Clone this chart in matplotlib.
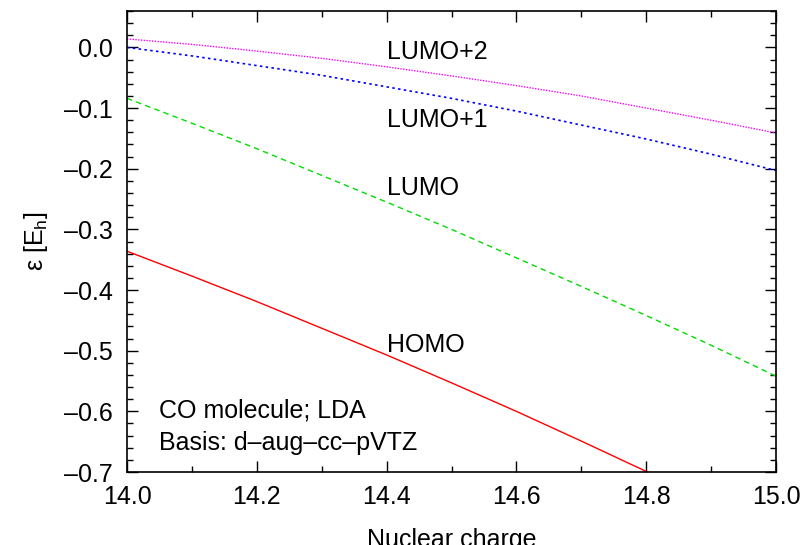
import numpy as np
import matplotlib
matplotlib.use("Agg")
import matplotlib.pyplot as plt
from matplotlib.ticker import MultipleLocator

plt.rcParams['font.family'] = ['Liberation Sans', 'DejaVu Sans']
plt.rcParams['mathtext.fontset'] = 'custom'
plt.rcParams['mathtext.rm'] = 'Liberation Sans'

# nuclear charge grid and orbital energies
charge = [14.0, 14.1, 14.2, 14.3, 14.4, 14.5, 14.6, 14.7, 14.8, 14.9, 15.0]
homo = [-0.336, -0.377, -0.419, -0.463, -0.507, -0.553, -0.600, -0.649, -0.699, -0.750, -0.802]
lumo = [-0.084, -0.125, -0.167, -0.211, -0.255, -0.300, -0.347, -0.394, -0.442, -0.491, -0.542]
lumo1 = [0.000, -0.014, -0.030, -0.046, -0.065, -0.084, -0.105, -0.128, -0.151, -0.176, -0.203]
lumo2 = [0.014, 0.005, -0.006, -0.018, -0.032, -0.047, -0.063, -0.080, -0.100, -0.120, -0.141]

labels = ["HOMO", "LUMO", "LUMO+1", "LUMO+2"]
label_y = [-0.491, -0.232, -0.120, -0.008]

FS = 18

fig = plt.figure(figsize=(8.02, 5.45), dpi=100)
ax = fig.add_axes([0.1584, 0.1339, 0.8092, 0.8459])

ax.plot(charge, homo, color='#ff0000', lw=1.0, ls='-')
ax.plot(charge, lumo, color='#00dd00', lw=1.0, ls=(0, (4, 3)))
ax.plot(charge, lumo1, color='#0000ff', lw=1.2, ls=(0, (1.5, 2)))
ax.plot(charge, lumo2, color='#ff00ff', lw=1.0, ls=(0, (1, 1)))

for name, yv in zip(labels, label_y):
    ax.text(14.4, yv, name, fontsize=FS, va='center', ha='left')

ax.text(14.05, -0.598, "CO molecule; LDA", fontsize=FS, va='center')
ax.text(14.05, -0.652, "Basis: d\u2013aug\u2013cc\u2013pVTZ", fontsize=FS, va='center')

ax.set_xlim(14.0, 15.0)
ax.set_ylim(-0.7, 0.06)
ax.xaxis.set_major_locator(MultipleLocator(0.2))
ax.xaxis.set_minor_locator(MultipleLocator(0.1))
ax.yaxis.set_major_locator(MultipleLocator(0.1))
ax.yaxis.set_minor_locator(MultipleLocator(0.02))
ax.xaxis.set_major_formatter(matplotlib.ticker.FormatStrFormatter('%.1f'))
ax.yaxis.set_major_formatter(matplotlib.ticker.FuncFormatter(
    lambda v, p: ('%.1f' % v).replace('-', '\u2013') if abs(v) > 1e-9 else '0.0'))

ax.tick_params(which='both', direction='in', top=True, right=True, labelsize=FS, width=1.0)
ax.tick_params(which='major', length=8)
ax.tick_params(axis='x', which='major', pad=9)
ax.tick_params(axis='y', which='major', pad=10)
ax.tick_params(which='minor', length=4)
for s in ax.spines.values():
    s.set_linewidth(1.2)

ax.set_xlabel("Nuclear charge", fontsize=FS, labelpad=14)
ax.set_ylabel("\u03b5 [E$_\\mathrm{h}$]", fontsize=FS, labelpad=10)

fig.savefig("out.png", dpi=100)
